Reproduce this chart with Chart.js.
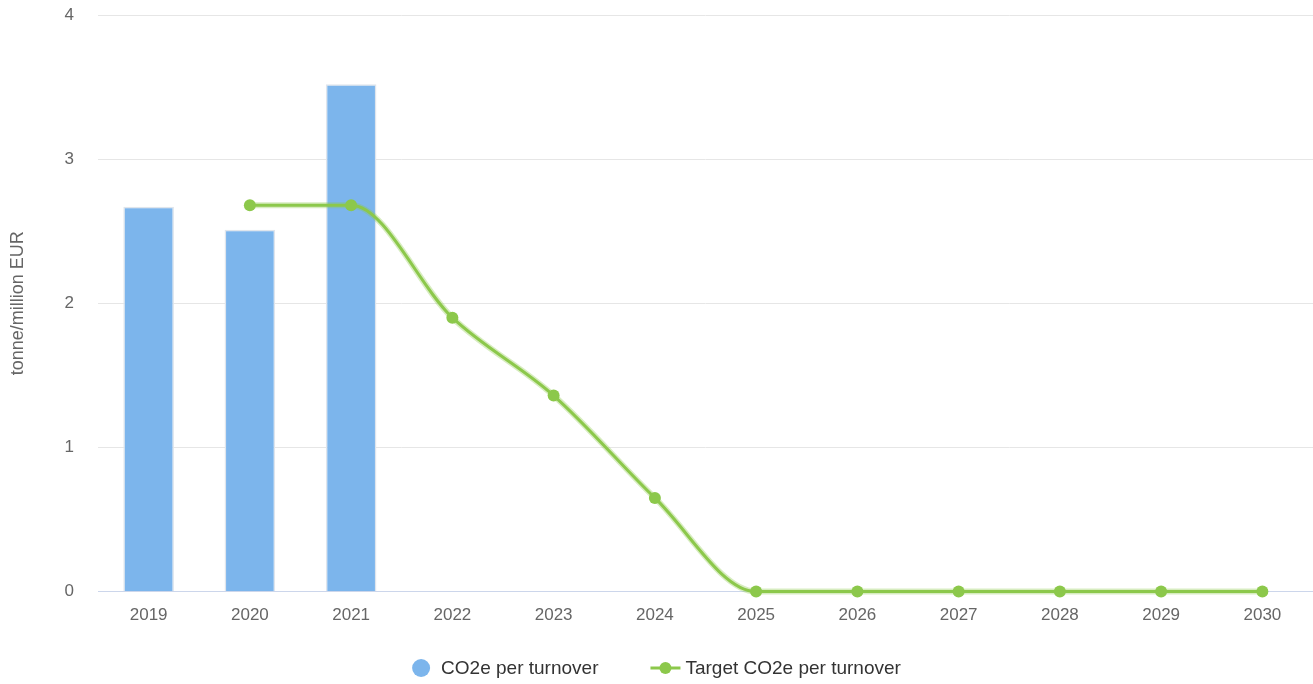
<!DOCTYPE html>
<html>
<head>
<meta charset="utf-8">
<script src="https://cdn.jsdelivr.net/npm/chart.js@4/dist/chart.umd.min.js"></script>
<style>
html,body{margin:0;padding:0;background:#fff;}
#wrap{width:1313px;height:684px;position:relative;}
</style>
</head>
<body>
<div id="wrap"><canvas id="c" width="1313" height="684"></canvas></div>
<script>
const years = ['2019','2020','2021','2022','2023','2024','2025','2026','2027','2028','2029','2030'];
const actualCO2 = [2.67, 2.51, 3.52, null, null, null, null, null, null, null, null, null];
const targetCO2 = [null, 2.68, 2.68, 1.90, 1.36, 0.65, 0, 0, 0, 0, 0, 0];
const yTicks = [0, 1, 2, 3, 4];
const seriesNames = ['CO2e per turnover', 'Target CO2e per turnover'];

const green = '#8cc84b';
const blue = '#7cb5ec';
const font = "'Liberation Sans', Arial, sans-serif";

// custom bottom legend (canvas text)
const legendPlugin = {
  id: 'bottomLegend',
  afterDraw(chart) {
    const ctx = chart.ctx;
    ctx.save();
    ctx.font = "19px " + font;
    ctx.textBaseline = 'middle';
    const y = 668;
    const w1 = ctx.measureText(seriesNames[0]).width;
    const w2 = ctx.measureText(seriesNames[1]).width;
    const circleD = 18, gap1 = 11, between = 52, lineW = 30, gap2 = 5;
    const total = circleD + gap1 + w1 + between + lineW + gap2 + w2;
    let x = chart.width / 2 - total / 2;
    ctx.fillStyle = blue;
    ctx.beginPath(); ctx.arc(x + circleD / 2, y, circleD / 2, 0, Math.PI * 2); ctx.fill();
    x += circleD + gap1;
    ctx.fillStyle = '#333333';
    ctx.fillText(seriesNames[0], x, y + 1);
    x += w1 + between;
    ctx.strokeStyle = green; ctx.lineWidth = 3;
    ctx.beginPath(); ctx.moveTo(x, y); ctx.lineTo(x + lineW, y); ctx.stroke();
    ctx.fillStyle = green;
    ctx.beginPath(); ctx.arc(x + lineW / 2, y, 6, 0, Math.PI * 2); ctx.fill();
    x += lineW + gap2;
    ctx.fillStyle = '#333333';
    ctx.fillText(seriesNames[1], x, y + 1);
    ctx.restore();
  }
};

new Chart(document.getElementById('c'), {
  data: {
    labels: years,
    datasets: [
      {
        type: 'line',
        label: seriesNames[1],
        data: targetCO2,
        borderColor: green,
        backgroundColor: green,
        borderWidth: 3,
        pointRadius: 6,
        pointHoverRadius: 6,
        pointBorderWidth: 0,
        pointBackgroundColor: green,
        cubicInterpolationMode: 'monotone',
        clip: false,
        order: 0
      },
      {
        type: 'line',
        label: 'halo',
        data: targetCO2,
        borderColor: 'rgba(140,200,75,0.35)',
        borderWidth: 6,
        pointRadius: 0,
        pointHoverRadius: 0,
        cubicInterpolationMode: 'monotone',
        clip: false,
        order: 1
      },
      {
        type: 'bar',
        label: seriesNames[0],
        data: actualCO2,
        backgroundColor: blue,
        borderColor: '#dfe5ec',
        borderWidth: 1.5,
        barPercentage: 0.5,
        categoryPercentage: 1.0,
        order: 2
      }
    ]
  },
  options: {
    responsive: false,
    animation: false,
    layout: { autoPadding: false, padding: { top: 15, right: 0, left: 0, bottom: 44 } },
    plugins: {
      tooltip: { enabled: false },
      legend: { display: false }
    },
    scales: {
      x: {
        grid: { display: false, drawTicks: false },
        border: { display: true, color: '#ccd6eb', width: 1 },
        ticks: { font: { family: font, size: 17 }, color: '#666666', padding: 14 }
      },
      y: {
        min: 0, max: 4,
        afterBuildTicks: (axis) => { axis.ticks = yTicks.map(v => ({ value: v })); },
        afterFit: (axis) => { axis.width = 98; },
        grid: { color: '#e6e6e6', drawTicks: true, tickLength: 24, tickColor: 'rgba(0,0,0,0)' },
        border: { display: false },
        ticks: { font: { family: font, size: 17 }, color: '#666666', padding: 0 },
        title: {
          display: true,
          text: 'tonne/million EUR',
          font: { family: font, size: 18 },
          color: '#666666',
          padding: { top: 7, bottom: 0 }
        }
      }
    }
  },
  plugins: [legendPlugin]
});
</script>
</body>
</html>
